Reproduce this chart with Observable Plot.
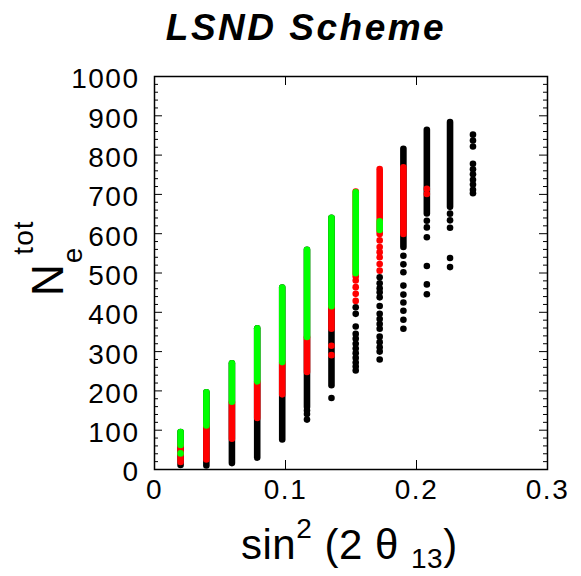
<!DOCTYPE html>
<html><head><meta charset="utf-8">
<script src="https://cdn.jsdelivr.net/npm/d3@7"></script>
<script src="https://cdn.jsdelivr.net/npm/@observablehq/plot@0.6"></script>
<style>
html,body{margin:0;padding:0;background:#fff;}
#title{position:relative;width:581px;height:50px;}
#title span{position:absolute;left:306px;top:9px;transform:translateX(-50%);font:italic bold 37px "Liberation Sans",Arial,sans-serif;line-height:1;letter-spacing:2.5px;white-space:nowrap;color:#000;}
svg text{letter-spacing:1.5px;}
</style></head><body>
<div id="title"><span>LSND Scheme</span></div>
<div id="chart"></div>
<script>
// sin^2(2 theta_13) value of each column of points
const colX = [0.0199, 0.0396, 0.0591, 0.0784, 0.0975, 0.1164, 0.1351, 0.1536, 0.1719, 0.1900, 0.2079, 0.2256, 0.2431];

// dense runs of overlapping points: [column index, lowest N_e^tot, highest N_e^tot]
const blackRuns = [[0,10,94],[1,9,195],[2,15,269],[3,29,358],[4,75,462],[5,158,558],[6,213,639],[9,565,815],[10,650,863],[11,667,883]];
const redRuns   = [[0,18,60],[1,24,110],[2,77,170],[3,130,222],[4,190,271],[5,247,335],[6,357,413],[7,490,706],[8,598,763],[9,598,768]];
const greenRuns = [[0,61,94],[1,111,195],[2,171,269],[3,223,358],[4,272,462],[5,336,558],[6,414,639],[7,498,704],[8,608,630]];

// isolated points: [column index, N_e^tot]
const blackDots = [
  [5,150],[5,141],[5,127],
  [6,182],
  [7,413],[7,396],[7,364],[7,345],[7,333],[7,320],[7,308],[7,296],[7,284],[7,272],[7,262],[7,252],
  [8,489],[8,474],[8,461],[8,451],[8,438],[8,416],[8,396],[8,383],[8,370],[8,358],[8,338],[8,324],[8,311],[8,300],[8,280],
  [9,544],[9,522],[9,502],[9,468],[9,445],[9,425],[9,404],[9,381],[9,358],
  [10,633],[10,616],[10,591],[10,518],[10,471],[10,446],
  [11,651],[11,634],[11,615],[11,538],[11,515],
  [12,852],[12,837],[12,822],[12,778],[12,764],[12,751],[12,737],[12,725],[12,712],[12,703]
];
const redDots = [[6,315],[6,291],[7,481],[7,464],[7,447],[7,429],[8,583],[8,566],[8,553],[8,540],[8,523],[8,506],[10,714],[10,701]];
const greenDots = [[0,41]];

const xTicks = [0, 0.1, 0.2, 0.3];
const yTicks = [0, 100, 200, 300, 400, 500, 600, 700, 800, 900, 1000];
const yMinor = d3.range(0, 1001, 20).filter(v => v % 100 !== 0);

const FONT = '"Liberation Sans", Arial, sans-serif';
const innerW = 393, innerH = 393;

const run = (data, color) => Plot.ruleX(data, {x: d => colX[d[0]], y1: d => d[1], y2: d => d[2], stroke: color, strokeWidth: 6.6, strokeLinecap: "round"});
const pts = (data, color) => Plot.dot(data, {x: d => colX[d[0]], y: d => d[1], r: 3.3, fill: color, stroke: "none"});

const chart = Plot.plot({
  width: 581, height: 526,
  marginLeft: 154, marginRight: 34, marginTop: 26, marginBottom: 107,
  x: {domain: [0, 0.3]},
  y: {domain: [0, 1000]},
  style: {fontFamily: FONT, fontSize: "28px", color: "#000", background: "#fff", overflow: "visible"},
  marks: [
    run(blackRuns, "#000"), pts(blackDots, "#000"),
    run(redRuns, "#ff0000"), pts(redDots, "#ff0000"),
    run(greenRuns, "#00ff00"), pts(greenDots, "#00ff00"),
    Plot.frame({stroke: "#000", strokeWidth: 1.5}),
    Plot.tickY(yTicks, {y: d => d, insetRight: innerW - 8, stroke: "#000"}),
    Plot.tickY(yTicks, {y: d => d, insetLeft: innerW - 8, stroke: "#000"}),
    Plot.tickY(yMinor, {y: d => d, insetRight: innerW - 4, stroke: "#000"}),
    Plot.tickY(yMinor, {y: d => d, insetLeft: innerW - 4, stroke: "#000"}),
    Plot.tickX(xTicks, {x: d => d, insetTop: innerH - 9, stroke: "#000"}),
    Plot.tickX(xTicks, {x: d => d, insetBottom: innerH - 9, stroke: "#000"}),
    Plot.axisX(xTicks, {tickSize: 0, tickPadding: 10, tickFormat: d => String(d), label: null, fontSize: 28}),
    Plot.axisY(yTicks, {tickSize: 0, tickPadding: 15, tickFormat: d => String(d), label: null, fontSize: 28, dy: 3})
  ]
});
document.getElementById("chart").appendChild(chart);

const svg = d3.select(chart);
// x-axis label: sin^2 (2 θ_13)
const xl = svg.append("text").attr("x", 241).attr("y", 509).attr("text-anchor", "start")
  .attr("font-family", FONT).attr("fill", "#000").style("white-space", "pre").style("letter-spacing", "0.5px");
xl.append("tspan").attr("font-size", 42).text("sin");
xl.append("tspan").attr("font-size", 28).attr("dy", -21).text("2");
xl.append("tspan").attr("font-size", 42).attr("dy", 21).text(" (2 \u03b8 ");
xl.append("tspan").attr("font-size", 28).attr("dy", 9).text("13");
xl.append("tspan").attr("font-size", 42).attr("dy", -9).text(")");

// y-axis label: N_e^tot
const yl = svg.append("text").attr("transform", "translate(63,246) rotate(-90)").attr("text-anchor", "start")
  .attr("font-family", FONT).attr("fill", "#000").style("white-space", "pre").style("letter-spacing", "1px");
yl.append("tspan").attr("font-size", 44).text("N");
yl.append("tspan").attr("font-size", 28).attr("dy", 19).text("e");
yl.append("tspan").attr("font-size", 28).attr("dx", -8).attr("dy", -49).text("tot");
</script></body></html>
